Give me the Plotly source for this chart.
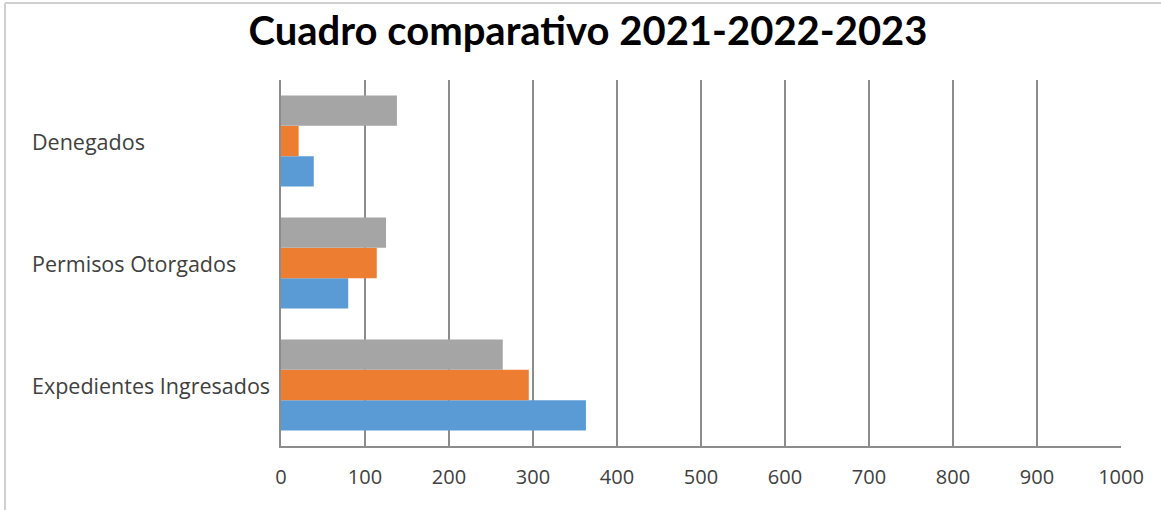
import plotly.graph_objects as go

categories = ["Expedientes Ingresados", "Permisos Otorgados", "Denegados"]
series_names = ["2021", "2022", "2023"]
values_2021 = [363, 80, 39]
values_2022 = [295, 114, 21]
values_2023 = [264, 125, 138]
colors = ["#5B9BD5", "#ED7D31", "#A5A5A5"]
x_ticks = [0, 100, 200, 300, 400, 500, 600, 700, 800, 900, 1000]
title_text = "Cuadro comparativo 2021-2022-2023"

W, H = 1161, 510
L, R, T, B = 281, 40, 80, 64
pw = W - L - R
ph = H - T - B

fig = go.Figure()
for name, vals, col in zip(series_names, [values_2021, values_2022, values_2023], colors):
    fig.add_trace(go.Bar(
        y=categories, x=vals, name=name, orientation="h",
        marker=dict(color=col, line=dict(width=0)),
    ))

annotations = []
for c in categories:
    annotations.append(dict(
        x=(30 - L) / pw, xref="paper", y=c, yref="y",
        text=c, showarrow=False, xanchor="left", yanchor="middle",
        font=dict(family="Open Sans", size=21.5, color="#404040"),
    ))

border_x = (5 - L) / pw
border_y = (H - B - 3) / ph
shapes = [
    dict(type="line", xref="paper", yref="paper", x0=border_x, x1=border_x,
         y0=-0.5, y1=border_y, line=dict(color="#D0D0D0", width=2)),
    dict(type="line", xref="paper", yref="paper", x0=border_x, x1=1.2,
         y0=border_y, y1=border_y, line=dict(color="#D0D0D0", width=2)),
]

fig.update_layout(
    width=W, height=H,
    margin=dict(l=L, r=R, t=T, b=B, pad=0),
    paper_bgcolor="white", plot_bgcolor="white",
    barmode="group", bargap=0.254, bargroupgap=0,
    showlegend=False,
    title=dict(text=title_text, x=(588 - L) / pw, xref="paper", xanchor="center",
               y=1 - 31 / H, yanchor="middle",
               font=dict(family="Lato", size=40, color="#000000", weight="bold")),
    xaxis=dict(range=[0, 1000], tickvals=x_ticks, ticktext=[str(v) for v in x_ticks],
               showgrid=True, gridcolor="#8C8C8C", gridwidth=1.5,
               showline=True, linecolor="#8C8C8C", linewidth=1.5,
               zeroline=False, ticks="", ticklabelstandoff=12,
               tickfont=dict(family="Open Sans", size=20, color="#404040"),
               fixedrange=True),
    yaxis=dict(showticklabels=False, showgrid=False, zeroline=False,
               showline=True, linecolor="#8C8C8C", linewidth=1.5,
               ticks="", fixedrange=True),
    annotations=annotations,
    shapes=shapes,
)

fig.write_html("out.html", config={"displayModeBar": False},
               post_script="document.body.style.margin='0';")
